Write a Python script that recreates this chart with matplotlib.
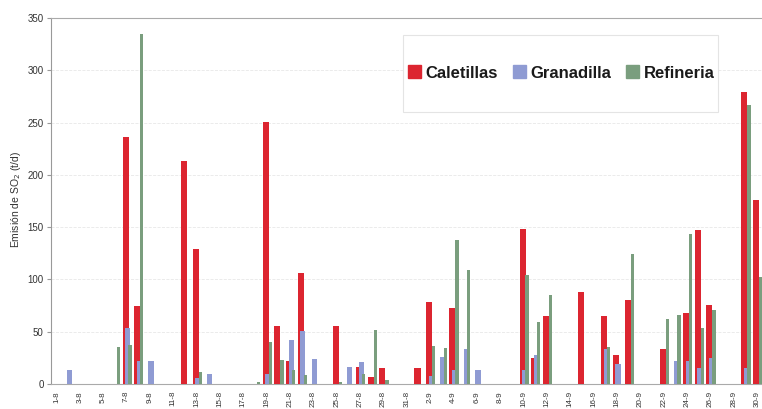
import matplotlib.pyplot as plt
from matplotlib.patches import Rectangle
import numpy as np

# fechas: 1-8 .. 31-8 y 1-9 .. 30-9
days = [f"{d}-8" for d in range(1, 32)] + [f"{d}-9" for d in range(1, 31)]

# valores (indice de dia -> t/d)
caletillas_pts = {6: 236, 7: 75, 11: 213, 12: 129, 18: 251, 19: 55, 20: 22, 21: 106,
                  24: 55, 26: 16, 27: 7, 28: 15, 31: 15, 32: 78, 34: 73, 40: 148,
                  41: 25, 42: 65, 45: 88, 47: 65, 48: 28, 49: 80, 52: 33, 54: 68,
                  55: 147, 56: 76, 59: 279, 60: 176}
granadilla_pts = {1: 13, 6: 54, 7: 22, 8: 22, 12: 6, 13: 10, 18: 10, 20: 42, 21: 51,
                  22: 24, 25: 16, 26: 21, 32: 8, 33: 26, 34: 13, 35: 33, 36: 13,
                  40: 13, 41: 28, 47: 33, 48: 19, 53: 22, 54: 22, 55: 15, 56: 25, 59: 15}
refineria_pts = {5: 35, 6: 37, 7: 335, 12: 11, 17: 2, 18: 40, 19: 23, 20: 13, 21: 9,
                 24: 2, 26: 10, 27: 52, 28: 4, 32: 36, 33: 34, 34: 138, 35: 109,
                 40: 104, 41: 59, 42: 85, 47: 35, 49: 124, 52: 62, 53: 66, 54: 143,
                 55: 54, 56: 71, 59: 267, 60: 102}

caletillas = [caletillas_pts.get(i, 0) for i in range(len(days))]
granadilla = [granadilla_pts.get(i, 0) for i in range(len(days))]
refineria = [refineria_pts.get(i, 0) for i in range(len(days))]

yticks = [0, 50, 100, 150, 200, 250, 300, 350]

red = '#dc2530'
blue = '#8f9bd3'
green = '#7a9e7e'

fig = plt.figure(figsize=(7.62, 4.09), dpi=100)
ax = fig.add_axes([50.7 / 762, 25 / 409, 712.3 / 762, 366 / 409])

x = np.arange(len(days))
ax.bar(x - 0.09, caletillas, width=0.52, color=red, zorder=3)
ax.bar(x + 0.09, granadilla, width=0.45, color=blue, zorder=4)
ax.bar(x + 0.30, refineria, width=0.28, color=green, zorder=5)

ax.set_xlim(-0.5, len(days) - 0.5)
ax.set_ylim(0, 350)
ax.set_yticks(yticks)
ax.set_yticklabels([str(v) for v in yticks], fontsize=7, family='Liberation Sans', color='#333333')
ax.set_xticks(x[::2])
ax.set_xticklabels(days[::2], rotation=90, fontsize=5.8, family='Liberation Sans', color='#333333')
ax.tick_params(axis='x', length=0, pad=5)
ax.tick_params(axis='y', length=3, color='#999999', pad=2)

ax.grid(axis='y', color='#e8e8e8', linestyle='--', linewidth=0.6, zorder=0)
ax.spines['right'].set_visible(False)
ax.spines['left'].set_color('#999999')
ax.spines['bottom'].set_color('#aaaaaa')
ax.spines['top'].set_color('#aaaaaa')
ax.spines['top'].set_linestyle((0, (2, 1)))
ax.spines['top'].set_linewidth(0.8)

fig.text(16 / 762, 1 - 200 / 409, 'Emisión de SO$_2$ (t/d)', rotation=90, ha='center', va='center',
         fontsize=7.5, family='Liberation Sans', color='#333333')

# cuadro de la leyenda
fig.patches.append(Rectangle((403 / 762, 1 - 112 / 409), 315 / 762, 77 / 409,
                             transform=fig.transFigure, facecolor='white',
                             edgecolor='#e4e4e4', linewidth=0.8, zorder=1))
handles = [Rectangle((0, 0), 1, 1, color=c) for c in (red, blue, green)]
leg = fig.legend(handles, ['Caletillas', 'Granadilla', 'Refineria'], ncol=3, frameon=False,
                 loc='center', bbox_to_anchor=(561 / 762, 1 - 73 / 409),
                 prop={'family': 'Liberation Sans', 'size': 12, 'weight': 'bold'},
                 handlelength=0.8, handleheight=0.8, handletextpad=0.25, columnspacing=0.9)
for t in leg.get_texts():
    t.set_color('#1a1a1a')
leg.set_zorder(10)

fig.savefig('out.png', dpi=100, facecolor='white')
